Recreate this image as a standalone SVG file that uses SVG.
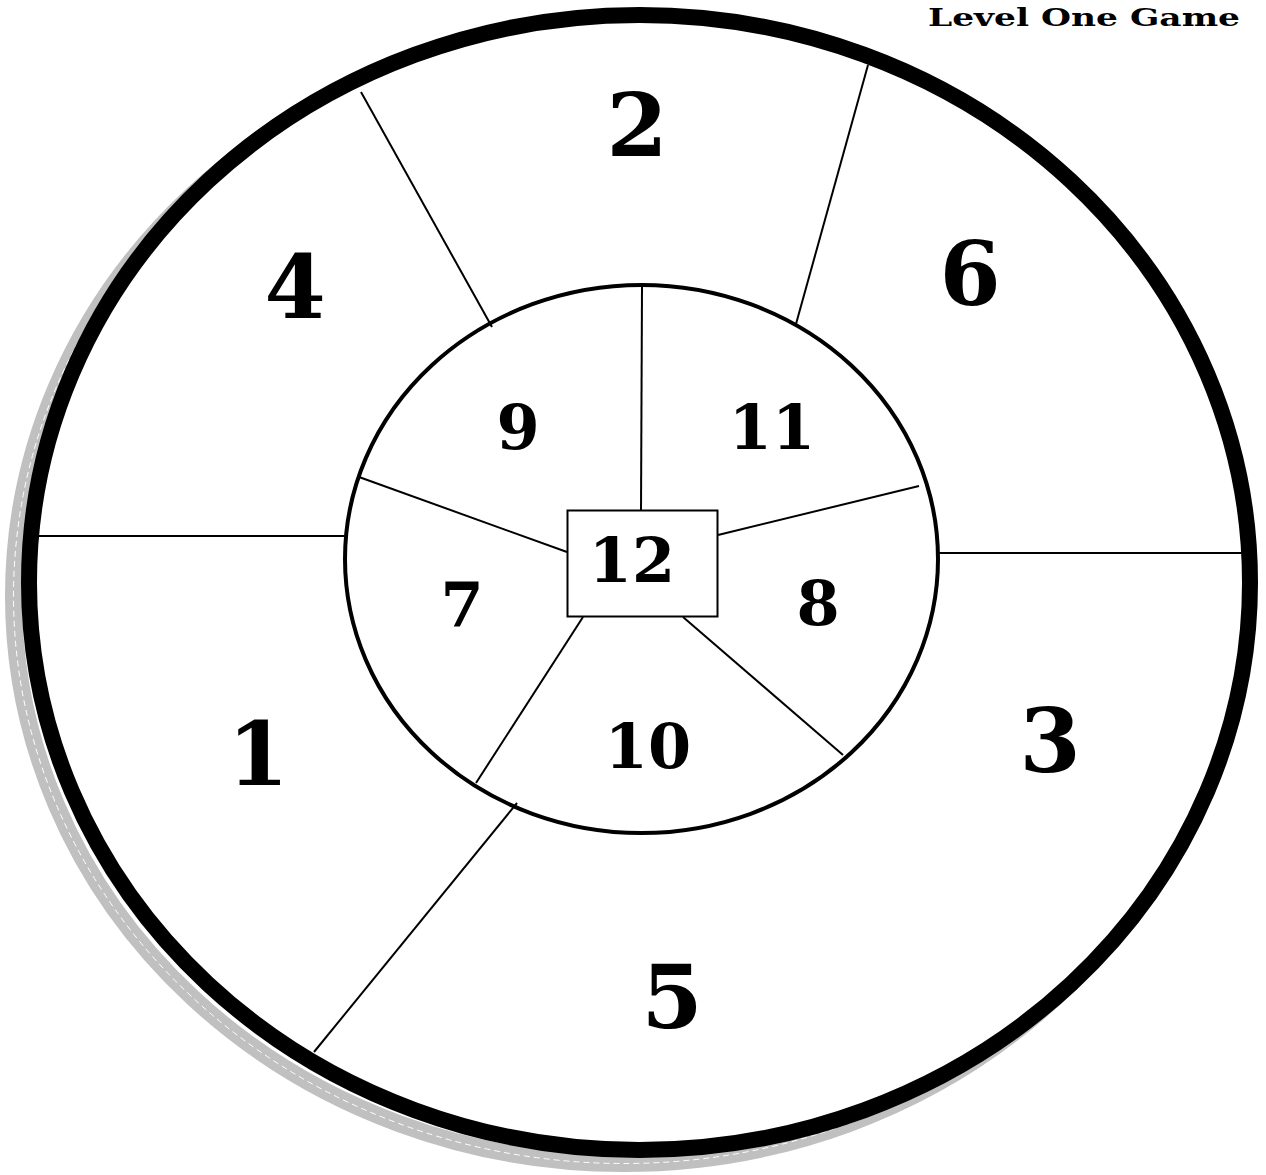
<svg xmlns="http://www.w3.org/2000/svg" width="1266" height="1175" viewBox="0 0 1266 1175">
<style>
.num{font-family:"DejaVu Serif","Liberation Serif",serif;font-weight:bold;fill:#000;text-anchor:middle}
.big{font-size:88px}
.mid{font-size:62px}
.sp{stroke:#000;stroke-width:2;fill:none}
</style>
<rect width="1266" height="1175" fill="#fff"/>
<g id="shadow">
<ellipse cx="624" cy="596" rx="610.5" ry="567.5" fill="none" stroke="#c0c0c0" stroke-width="17"/>
<ellipse cx="624" cy="596" rx="610.5" ry="567.5" fill="none" stroke="#fff" stroke-width="1" stroke-dasharray="6 4"/>
</g>
<g id="outer-ring">
<ellipse cx="639.5" cy="582.5" rx="610.5" ry="567.5" fill="#fff" stroke="#000" stroke-width="16"/>
</g>
<g id="connectors">
<line class="sp" x1="361" y1="92" x2="492" y2="327"/>
<line class="sp" x1="868" y1="65" x2="796" y2="324"/>
<line class="sp" x1="38" y1="536" x2="345" y2="536"/>
<line class="sp" x1="938" y1="553" x2="1242" y2="553"/>
<line class="sp" x1="517" y1="803" x2="314" y2="1052"/>
<line class="sp" x1="642" y1="287" x2="641" y2="510"/>
<line class="sp" x1="359" y1="477" x2="567" y2="552"/>
<line class="sp" x1="718" y1="535" x2="919" y2="486"/>
<line class="sp" x1="583" y1="617" x2="476" y2="783"/>
<line class="sp" x1="683" y1="617" x2="843" y2="755"/>
</g>
<g id="inner-ring">
<ellipse cx="641.5" cy="559" rx="296.5" ry="274" fill="none" stroke="#000" stroke-width="4"/>
</g>
<g id="node-12">
<rect x="567.5" y="510.5" width="150" height="106" fill="#fff" stroke="#000" stroke-width="2"/>
<text class="num mid" x="632" y="582">12</text>
</g>
<g id="node-1"><text class="num big" x="258" y="785">1</text></g>
<g id="node-2"><text class="num big" x="637" y="156">2</text></g>
<g id="node-3"><text class="num big" x="1050" y="772">3</text></g>
<g id="node-4"><text class="num big" x="295" y="318">4</text></g>
<g id="node-5"><text class="num big" x="672" y="1028">5</text></g>
<g id="node-6"><text class="num big" x="970" y="305">6</text></g>
<g id="node-7"><text class="num mid" x="462" y="627">7</text></g>
<g id="node-8"><text class="num mid" x="818" y="625">8</text></g>
<g id="node-9"><text class="num mid" x="518" y="449">9</text></g>
<g id="node-10"><text class="num mid" x="648" y="768">10</text></g>
<g id="node-11"><text class="num mid" x="772" y="449">11</text></g>
<g id="title"><text x="928" y="26" font-family="DejaVu Serif, Liberation Serif, serif" font-weight="bold" font-size="25" textLength="312" lengthAdjust="spacingAndGlyphs">Level One Game</text></g>
</svg>
